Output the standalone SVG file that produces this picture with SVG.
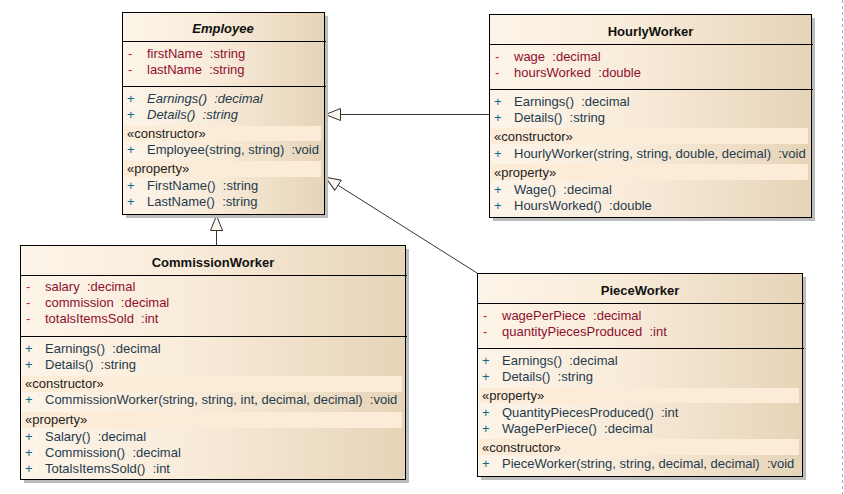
<svg xmlns="http://www.w3.org/2000/svg" width="844" height="494" viewBox="0 0 844 494" xml:space="preserve">
<defs>
<linearGradient id="g" x1="0" y1="0" x2="1" y2="0">
<stop offset="0" stop-color="#fdf4e9"/>
<stop offset="0.45" stop-color="#f8ebd9"/>
<stop offset="1" stop-color="#e6d4b8"/>
</linearGradient>
<marker id="gen" viewBox="0 0 16 13" refX="16" refY="6.5" markerWidth="16" markerHeight="13" markerUnits="userSpaceOnUse" orient="auto">
<path d="M0.5,0.5 L15.5,6.5 L0.5,12.5 Z" fill="#fdf6ec" stroke="#333" stroke-width="1"/>
</marker>
</defs>
<style>
text{font-family:"Liberation Sans",Arial,sans-serif;font-size:13px;white-space:pre}
.box{fill:url(#g);stroke:#000;stroke-width:1}
.sh{fill:#bcbcbc}
.sep{stroke:#000;stroke-width:1}
.band{fill:#fcecd7}
.title{font-weight:bold;fill:#111;text-anchor:middle}
.abs{font-style:italic}
.am{fill:#c0282a}
.an{fill:#8e0f2e}
.op{fill:#1f3b4d}
.pl{fill:#0b6a8c}
.st{fill:#222}
.conn{stroke:#333;stroke-width:1;fill:none}
</style>
<rect x="0" y="0" width="844" height="494" fill="#ffffff"/>
<rect x="843" y="0" width="1" height="494" fill="#fafafa"/>
<line x1="842.5" y1="0" x2="842.5" y2="494" stroke="#a9a9de" stroke-width="1" stroke-dasharray="3 3"/>

<g id="connectors">
<line class="conn" x1="489" y1="114.5" x2="325" y2="114.5" marker-end="url(#gen)"/>
<line class="conn" x1="477" y1="273" x2="325" y2="177" marker-end="url(#gen)"/>
<line class="conn" x1="216.5" y1="245" x2="216.5" y2="215" marker-end="url(#gen)"/>
</g>

<g id="Employee" shape-rendering="crispEdges">
<rect class="sh" x="126" y="16" width="202" height="202"/>
<rect class="box" x="122.5" y="12.5" width="202" height="202"/>
<line class="sep" x1="122" y1="41.5" x2="326" y2="41.5"/>
<line class="sep" x1="122" y1="86.5" x2="326" y2="86.5"/>
<rect class="band" x="124" y="126" width="197" height="15"/>
<rect class="band" x="124" y="161" width="197" height="16"/>
<text class="title abs" x="223" y="33">Employee</text>
<text class="am" x="128" y="58">-</text><text class="an" x="147" y="58">firstName  :string</text>
<text class="am" x="128" y="74">-</text><text class="an" x="147" y="74">lastName  :string</text>
<text class="pl" x="127" y="103">+</text><text class="op abs" x="147" y="103">Earnings()  :decimal</text>
<text class="pl" x="127" y="119">+</text><text class="op abs" x="147" y="119">Details()  :string</text>
<text class="st" x="127" y="138">«constructor»</text>
<text class="pl" x="127" y="154">+</text><text class="op" x="147" y="154">Employee(string, string)  :void</text>
<text class="st" x="127" y="173">«property»</text>
<text class="pl" x="127" y="190">+</text><text class="op" x="147" y="190">FirstName()  :string</text>
<text class="pl" x="127" y="206">+</text><text class="op" x="147" y="206">LastName()  :string</text>
</g>

<g id="HourlyWorker" shape-rendering="crispEdges">
<rect class="sh" x="493" y="18" width="322" height="203"/>
<rect class="box" x="489.5" y="14.5" width="322" height="203"/>
<line class="sep" x1="489" y1="44.5" x2="813" y2="44.5"/>
<line class="sep" x1="489" y1="89.5" x2="813" y2="89.5"/>
<rect class="band" x="491" y="128" width="317" height="16"/>
<rect class="band" x="491" y="164" width="317" height="16"/>
<text class="title" x="650.5" y="36">HourlyWorker</text>
<text class="am" x="495" y="61">-</text><text class="an" x="514" y="61">wage  :decimal</text>
<text class="am" x="495" y="77">-</text><text class="an" x="514" y="77">hoursWorked  :double</text>
<text class="pl" x="494" y="106">+</text><text class="op" x="514" y="106">Earnings()  :decimal</text>
<text class="pl" x="494" y="122">+</text><text class="op" x="514" y="122">Details()  :string</text>
<text class="st" x="494" y="141">«constructor»</text>
<text class="pl" x="494" y="158">+</text><text class="op" x="514" y="158">HourlyWorker(string, string, double, decimal)  :void</text>
<text class="st" x="494" y="177">«property»</text>
<text class="pl" x="494" y="194">+</text><text class="op" x="514" y="194">Wage()  :decimal</text>
<text class="pl" x="494" y="210">+</text><text class="op" x="514" y="210">HoursWorked()  :double</text>
</g>

<g id="CommissionWorker" shape-rendering="crispEdges">
<rect class="sh" x="24" y="249" width="385" height="234"/>
<rect class="box" x="20.5" y="245.5" width="385" height="234"/>
<line class="sep" x1="20" y1="275.5" x2="407" y2="275.5"/>
<line class="sep" x1="20" y1="336.5" x2="407" y2="336.5"/>
<rect class="band" x="22" y="376" width="380" height="16"/>
<rect class="band" x="22" y="412" width="380" height="16"/>
<text class="title" x="213" y="267">CommissionWorker</text>
<text class="am" x="26" y="291">-</text><text class="an" x="45" y="291">salary  :decimal</text>
<text class="am" x="26" y="307">-</text><text class="an" x="45" y="307">commission  :decimal</text>
<text class="am" x="26" y="323">-</text><text class="an" x="45" y="323">totalsItemsSold  :int</text>
<text class="pl" x="25" y="353">+</text><text class="op" x="45" y="353">Earnings()  :decimal</text>
<text class="pl" x="25" y="369">+</text><text class="op" x="45" y="369">Details()  :string</text>
<text class="st" x="25" y="388">«constructor»</text>
<text class="pl" x="25" y="404">+</text><text class="op" x="45" y="404">CommissionWorker(string, string, int, decimal, decimal)  :void</text>
<text class="st" x="25" y="424">«property»</text>
<text class="pl" x="25" y="441">+</text><text class="op" x="45" y="441">Salary()  :decimal</text>
<text class="pl" x="25" y="457">+</text><text class="op" x="45" y="457">Commission()  :decimal</text>
<text class="pl" x="25" y="473">+</text><text class="op" x="45" y="473">TotalsItemsSold()  :int</text>
</g>

<g id="PieceWorker" shape-rendering="crispEdges">
<rect class="sh" x="481" y="277" width="325" height="203"/>
<rect class="box" x="477.5" y="273.5" width="325" height="203"/>
<line class="sep" x1="477" y1="303.5" x2="804" y2="303.5"/>
<line class="sep" x1="477" y1="348.5" x2="804" y2="348.5"/>
<rect class="band" x="479" y="388" width="320" height="15"/>
<rect class="band" x="479" y="439" width="320" height="16"/>
<text class="title" x="640" y="295">PieceWorker</text>
<text class="am" x="483" y="320">-</text><text class="an" x="502" y="320">wagePerPiece  :decimal</text>
<text class="am" x="483" y="336">-</text><text class="an" x="502" y="336">quantityPiecesProduced  :int</text>
<text class="pl" x="482" y="365">+</text><text class="op" x="502" y="365">Earnings()  :decimal</text>
<text class="pl" x="482" y="381">+</text><text class="op" x="502" y="381">Details()  :string</text>
<text class="st" x="482" y="400">«property»</text>
<text class="pl" x="482" y="417">+</text><text class="op" x="502" y="417">QuantityPiecesProduced()  :int</text>
<text class="pl" x="482" y="433">+</text><text class="op" x="502" y="433">WagePerPiece()  :decimal</text>
<text class="st" x="482" y="452">«constructor»</text>
<text class="pl" x="482" y="468">+</text><text class="op" x="502" y="468">PieceWorker(string, string, decimal, decimal)  :void</text>
</g>
</svg>
